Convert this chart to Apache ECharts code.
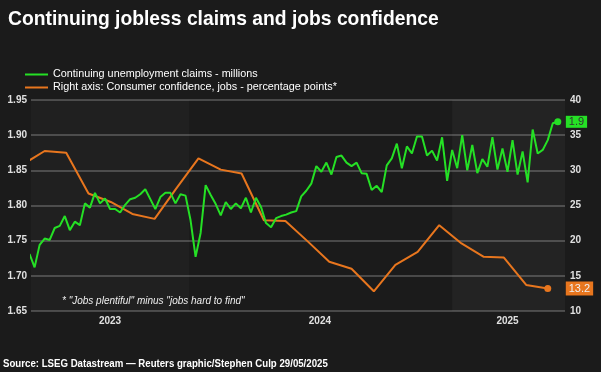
<!DOCTYPE html>
<html><head><meta charset="utf-8">
<script src="https://cdn.jsdelivr.net/npm/echarts@6/dist/echarts.min.js"></script>
<style>html,body{margin:0;padding:0;background:#1b1b1b;}#c{width:601px;height:372px;}</style>
</head><body><div id="c"></div>
<script>
// Weekly continuing claims (millions), first week and values
const claimsFirstWeek = [2023, 4, 24];
const claimsValues = [
 1.731,1.712,1.744,1.753,1.751,1.768,1.771,1.785,1.765,1.777,
 1.772,1.803,1.797,1.818,1.803,1.810,1.795,1.795,1.790,1.801,
 1.809,1.811,1.816,1.823,1.809,1.795,1.812,1.818,1.818,1.803,
 1.816,1.814,1.779,1.727,1.761,1.829,1.815,1.802,1.786,1.805,
 1.795,1.803,1.796,1.811,1.790,1.811,1.798,1.775,1.769,1.782,
 1.785,1.787,1.790,1.792,1.813,1.821,1.831,1.856,1.848,1.861,
 1.844,1.869,1.871,1.861,1.856,1.861,1.846,1.845,1.822,1.828,
 1.819,1.857,1.867,1.888,1.853,1.884,1.874,1.898,1.898,1.871,
 1.878,1.864,1.897,1.835,1.879,1.853,1.900,1.850,1.886,1.846,
 1.866,1.855,1.897,1.851,1.881,1.848,1.893,1.844,1.877,1.833,
 1.908,1.874,1.879,1.893,1.917,1.919
];
// Monthly consumer confidence labour differential
const confDates = ['2023-05-14','2023-06-14','2023-07-14','2023-08-14','2023-09-14','2023-10-14','2023-11-14','2023-12-14',
 '2024-01-14','2024-02-14','2024-03-14','2024-04-14','2024-05-14','2024-06-14','2024-07-14','2024-08-14','2024-09-14',
 '2024-10-14','2024-11-14','2024-12-14','2025-01-14','2025-02-14','2025-03-14','2025-04-14','2025-05-14'];
const confValues = [30.8,32.75,32.5,26.7,25.5,23.8,23.1,27.4,31.7,30.1,29.55,22.9,22.8,19.9,17.0,16.0,12.8,16.55,18.4,22.2,19.6,17.7,17.6,13.7,13.2];
const axisRange = ['2023-05-26','2025-06-07'];
const yearLabelDates = ['2023-09-13','2024-07-01','2025-03-19'];
const yearBands = [['2023-05-26','2024-01-01'],['2025-01-01','2025-06-07']];
const bandColors = ['rgba(255,255,255,0.025)','rgba(255,255,255,0.035)'];

const GREEN = '#25e025', ORANGE = '#e8761e';
function ts(s){const p=s.split('-');return new Date(+p[0],+p[1]-1,+p[2]).getTime();}
const claimsData = claimsValues.map((v,i)=>{const d=new Date(claimsFirstWeek[0],claimsFirstWeek[1],claimsFirstWeek[2]+7*i);return [d.getTime(),v];});
const confData = confValues.map((v,i)=>[ts(confDates[i]),v]);
const lastIdx = (arr)=>arr.length-1;

const chart = echarts.init(document.getElementById('c'), null, {renderer:'canvas'});
const sans = "'Liberation Sans',Arial,sans-serif";
chart.setOption({
  backgroundColor:'#1b1b1b',
  animation:false,
  title:[
    {text:'Continuing jobless claims and jobs confidence',left:8,top:10,padding:0,
     textStyle:{color:'#ffffff',fontSize:19.3,fontWeight:'bold',fontFamily:sans}},
    {text:'* "Jobs plentiful" minus "jobs hard to find"',left:62,top:296,padding:0,
     textStyle:{color:'#eeeeee',fontSize:10,fontStyle:'italic',fontWeight:'normal',fontFamily:sans}}
  ],
  graphic:[
    {type:'text',x:3,y:364,scaleX:0.84,silent:true,
     style:{text:'Source: LSEG Datastream \u2014 Reuters graphic/Stephen Culp 29/05/2025',
       fill:'#ffffff',font:"bold 11.5px 'Liberation Sans', Arial, sans-serif",verticalAlign:'middle',align:'left'}}
  ],
  legend:{
    data:['Continuing unemployment claims - millions','Right axis: Consumer confidence, jobs - percentage points*'],
    orient:'vertical',left:20,top:63,itemGap:0,itemWidth:23,itemHeight:2,icon:'rect',itemTextGap:3,
    textStyle:{color:'#ffffff',fontSize:10.8,lineHeight:13,fontFamily:sans}
  },
  grid:{left:31,right:36,top:100,bottom:61},
  xAxis:{type:'value',min:ts(axisRange[0]),max:ts(axisRange[1]),
    axisLine:{show:false},axisTick:{show:false},splitLine:{show:false},
    axisLabel:{customValues:yearLabelDates.map(ts),formatter:v=>String(new Date(v).getFullYear()),
      color:'#e0e0e0',fontSize:10,fontWeight:'bold',fontFamily:sans,margin:5}},
  yAxis:[
    {type:'value',position:'left',min:1.65,max:1.95,interval:0.05,
     axisLine:{show:false},axisTick:{show:false},
     axisLabel:{formatter:v=>v.toFixed(2),color:'#e0e0e0',fontSize:10,fontWeight:'bold',fontFamily:sans,margin:4},
     splitLine:{lineStyle:{color:'#5a5a5a',width:1.5}}},
    {type:'value',position:'right',min:10,max:40,interval:5,
     axisLine:{show:false},axisTick:{show:false},
     axisLabel:{color:'#e0e0e0',fontSize:10,fontWeight:'bold',fontFamily:sans,margin:5},
     splitLine:{show:false}}
  ],
  series:[
    {name:'bands',type:'line',data:confData,yAxisIndex:1,z:-1,silent:true,symbol:'none',
     lineStyle:{opacity:0},
     markArea:{silent:true,data:yearBands.map((b,i)=>[{xAxis:ts(b[0]),itemStyle:{color:bandColors[i]}},{xAxis:ts(b[1])}])}},
    {name:'Continuing unemployment claims - millions',type:'line',data:claimsData,yAxisIndex:0,z:3,
     color:GREEN,lineStyle:{color:GREEN,width:2},itemStyle:{color:GREEN},
     symbol:'circle',showSymbol:true,showAllSymbol:true,
     symbolSize:(v,p)=>p.dataIndex===lastIdx(claimsData)?7:0,
     endLabel:{show:true,formatter:p=>p.value[1].toFixed(1),backgroundColor:GREEN,color:'#333333',
       fontSize:11,fontFamily:sans,padding:[1,3,0,3],distance:8}},
    {name:'Right axis: Consumer confidence, jobs - percentage points*',type:'line',data:confData,yAxisIndex:1,z:2,
     color:ORANGE,lineStyle:{color:ORANGE,width:2},itemStyle:{color:ORANGE},
     symbol:'circle',showSymbol:true,showAllSymbol:true,
     symbolSize:(v,p)=>p.dataIndex===lastIdx(confData)?7:0,
     endLabel:{show:true,formatter:p=>p.value[1].toFixed(1),backgroundColor:ORANGE,color:'#f0f0f0',
       fontSize:11,fontFamily:sans,padding:[2,3,1,3],distance:18}}
  ]
});
</script></body></html>
